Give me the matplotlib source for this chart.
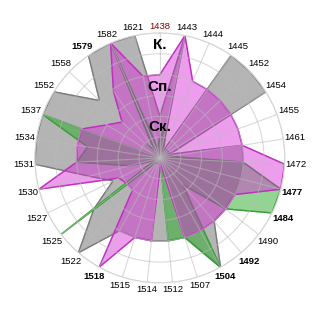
import numpy as np
import matplotlib
matplotlib.use('Agg')
import matplotlib.pyplot as plt

plt.rcParams['font.family'] = ['Liberation Sans', 'DejaVu Sans']

# categories clockwise from the top
cats = ['1438', '1443', '1444', '1445', '1452', '1454', '1455', '1461', '1472', '1477',
        '1484', '1490', '1492', '1504', '1507', '1512', '1514', '1515', '1518', '1522',
        '1525', '1527', '1530', '1531', '1534', '1537', '1552', '1558', '1579', '1582', '1621']
bold_cats = ['1477', '1484', '1492', '1504', '1518', '1579']
red_cats = ['1438']

gray_vals = [2, 6, 0.3, 6, 6, 6, 0.5, 4, 4, 4, 4, 4, 4, 6, 4, 4, 4, 4, 4, 6,
             4, 2.5, 3.5, 6, 6, 6, 6, 4, 6, 6, 6]
green_vals = [1, 1.5, 0.5, 0.5, 0.5, 0.5, 0.5, 0.5, 4, 6, 6, 4, 1.7, 6, 4, 4, 0, 0.3, 0.3, 0.3,
              6, 0.3, 1.5, 4, 3.5, 6, 0, 1, 0.5, 6, 0.5]
pink_vals = [4, 6, 4, 4, 4, 4, 4, 4, 6, 6, 4, 4, 4, 4, 4, 0.3, 4, 4, 6, 2,
             2, 2.2, 6, 4, 4, 4, 3.0, 2.5, 3.9, 6, 4]

level_names = ['Ск.', 'Сп.', 'К.']
level_pos = [1.5, 3.4, 5.4]

n = len(cats)
angles = np.linspace(0, 2 * np.pi, n, endpoint=False)
ang_c = np.append(angles, angles[0])


def closed(v):
    return np.append(v, v[0])


fig = plt.figure(figsize=(3.2, 3.2), dpi=100)
ax = fig.add_axes([0.109, 0.116, 0.781, 0.781], projection='polar')
ax.set_theta_zero_location('N')
ax.set_theta_direction(-1)

# layers: gray at the bottom, then green, then pink on top
ax.fill(ang_c, closed(gray_vals), color='#b4b4b4', zorder=1.0)
ax.plot(ang_c, closed(gray_vals), color='#7c7c7c', lw=1, zorder=1.05)
ax.fill(ang_c, closed(green_vals), color=(0.16, 0.67, 0.16), alpha=0.5, zorder=1.1)
ax.plot(ang_c, closed(green_vals), color='#38a038', lw=1, zorder=1.15)
ax.fill(ang_c, closed(pink_vals), color=(0.84, 0.16, 0.84), alpha=0.45, zorder=1.2)
ax.plot(ang_c, closed(pink_vals), color='#c030c0', lw=1, zorder=1.25)

ax.set_ylim(0, 6)
ax.set_yticks([1, 2, 3, 4, 5, 6])
ax.set_yticklabels([])
ax.set_xticks(angles)
ax.set_xticklabels([])
ax.tick_params(axis='x', length=0)
ax.grid(color='#bbbbbb', alpha=0.55, lw=0.8)
ax.spines['polar'].set_color('#d4d4d4')

# category labels just outside the ring
for a, c in zip(angles, cats):
    r_px = 126 + 10 * abs(np.sin(a)) + 5 * abs(np.cos(a))
    col = '#8b0000' if c in red_cats else 'black'
    wt = 'bold' if c in bold_cats else 'normal'
    ax.text(a, 6 * r_px / 125, c, ha='center', va='center', fontsize=6.8,
            color=col, fontweight=wt)

for name, r in zip(level_names, level_pos):
    ax.text(0, r, name, ha='center', va='center', fontsize=11, fontweight='bold', zorder=5)

fig.savefig('out.png', dpi=100)
